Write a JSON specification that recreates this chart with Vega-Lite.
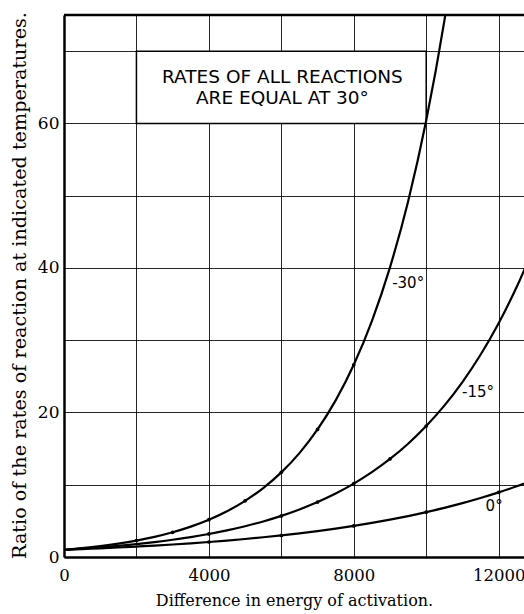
{
  "$schema": "https://vega.github.io/schema/vega-lite/v6.json",
  "width": 460,
  "height": 542,
  "autosize": {"type": "none"},
  "padding": {"left": 64, "top": 15, "right": 0, "bottom": 57},
  "background": "white",
  "config": {"view": {"stroke": null}, "font": "DejaVu Serif"},
  "datasets": {
    "curves": [
      {"E": 0, "ratio": 1, "T": "-30"}, {"E": 500, "ratio": 1.2276, "T": "-30"}, {"E": 1000, "ratio": 1.507, "T": "-30"}, {"E": 1500, "ratio": 1.85, "T": "-30"}, {"E": 2000, "ratio": 2.2711, "T": "-30"}, {"E": 2500, "ratio": 2.7879, "T": "-30"}, {"E": 3000, "ratio": 3.4223, "T": "-30"}, {"E": 3500, "ratio": 4.2013, "T": "-30"}, {"E": 4000, "ratio": 5.1576, "T": "-30"}, {"E": 4500, "ratio": 6.3313, "T": "-30"}, {"E": 5000, "ratio": 7.7725, "T": "-30"}, {"E": 5500, "ratio": 9.5416, "T": "-30"}, {"E": 6000, "ratio": 11.713, "T": "-30"}, {"E": 6500, "ratio": 14.379, "T": "-30"}, {"E": 7000, "ratio": 17.652, "T": "-30"}, {"E": 7500, "ratio": 21.669, "T": "-30"}, {"E": 8000, "ratio": 26.6, "T": "-30"}, {"E": 8500, "ratio": 32.654, "T": "-30"}, {"E": 9000, "ratio": 40.085, "T": "-30"}, {"E": 9500, "ratio": 49.207, "T": "-30"}, {"E": 10000, "ratio": 60.408, "T": "-30"}, {"E": 10500, "ratio": 74.157, "T": "-30"}, {"E": 11000, "ratio": 91.03, "T": "-30"},
      {"E": 0, "ratio": 1, "T": "-15"}, {"E": 500, "ratio": 1.1559, "T": "-15"}, {"E": 1000, "ratio": 1.3361, "T": "-15"}, {"E": 1500, "ratio": 1.5443, "T": "-15"}, {"E": 2000, "ratio": 1.785, "T": "-15"}, {"E": 2500, "ratio": 2.0633, "T": "-15"}, {"E": 3000, "ratio": 2.3849, "T": "-15"}, {"E": 3500, "ratio": 2.7565, "T": "-15"}, {"E": 4000, "ratio": 3.1862, "T": "-15"}, {"E": 4500, "ratio": 3.6828, "T": "-15"}, {"E": 5000, "ratio": 4.2568, "T": "-15"}, {"E": 5500, "ratio": 4.9203, "T": "-15"}, {"E": 6000, "ratio": 5.6873, "T": "-15"}, {"E": 6500, "ratio": 6.5737, "T": "-15"}, {"E": 7000, "ratio": 7.5983, "T": "-15"}, {"E": 7500, "ratio": 8.7827, "T": "-15"}, {"E": 8000, "ratio": 10.152, "T": "-15"}, {"E": 8500, "ratio": 11.734, "T": "-15"}, {"E": 9000, "ratio": 13.563, "T": "-15"}, {"E": 9500, "ratio": 15.677, "T": "-15"}, {"E": 10000, "ratio": 18.121, "T": "-15"}, {"E": 10500, "ratio": 20.945, "T": "-15"}, {"E": 11000, "ratio": 24.21, "T": "-15"}, {"E": 11500, "ratio": 27.983, "T": "-15"}, {"E": 12000, "ratio": 32.345, "T": "-15"}, {"E": 12500, "ratio": 37.386, "T": "-15"}, {"E": 13000, "ratio": 43.214, "T": "-15"},
      {"E": 0, "ratio": 1, "T": "0"}, {"E": 500, "ratio": 1.0956, "T": "0"}, {"E": 1000, "ratio": 1.2003, "T": "0"}, {"E": 1500, "ratio": 1.315, "T": "0"}, {"E": 2000, "ratio": 1.4406, "T": "0"}, {"E": 2500, "ratio": 1.5783, "T": "0"}, {"E": 3000, "ratio": 1.7291, "T": "0"}, {"E": 3500, "ratio": 1.8943, "T": "0"}, {"E": 4000, "ratio": 2.0753, "T": "0"}, {"E": 4500, "ratio": 2.2736, "T": "0"}, {"E": 5000, "ratio": 2.4909, "T": "0"}, {"E": 5500, "ratio": 2.7289, "T": "0"}, {"E": 6000, "ratio": 2.9896, "T": "0"}, {"E": 6500, "ratio": 3.2753, "T": "0"}, {"E": 7000, "ratio": 3.5884, "T": "0"}, {"E": 7500, "ratio": 3.9312, "T": "0"}, {"E": 8000, "ratio": 4.3068, "T": "0"}, {"E": 8500, "ratio": 4.7184, "T": "0"}, {"E": 9000, "ratio": 5.1693, "T": "0"}, {"E": 9500, "ratio": 5.6633, "T": "0"}, {"E": 10000, "ratio": 6.2044, "T": "0"}, {"E": 10500, "ratio": 6.7973, "T": "0"}, {"E": 11000, "ratio": 7.4468, "T": "0"}, {"E": 11500, "ratio": 8.1584, "T": "0"}, {"E": 12000, "ratio": 8.9378, "T": "0"}, {"E": 12500, "ratio": 9.7918, "T": "0"}, {"E": 13000, "ratio": 10.728, "T": "0"}
    ],
    "dots": [
      {"E": 2000, "ratio": 2.2711}, {"E": 3000, "ratio": 3.4223}, {"E": 4000, "ratio": 5.1576}, {"E": 5000, "ratio": 7.7725}, {"E": 6000, "ratio": 11.713}, {"E": 7000, "ratio": 17.652}, {"E": 8000, "ratio": 26.6},
      {"E": 4000, "ratio": 3.1862}, {"E": 6000, "ratio": 5.6873}, {"E": 7000, "ratio": 7.5983}, {"E": 8000, "ratio": 10.152}, {"E": 9000, "ratio": 13.563}, {"E": 10000, "ratio": 18.121},
      {"E": 4000, "ratio": 2.0753}, {"E": 6000, "ratio": 2.9896}, {"E": 8000, "ratio": 4.3068}, {"E": 10000, "ratio": 6.2044}, {"E": 12000, "ratio": 8.9378}
    ],
    "box": [{"x1": 2000, "x2": 10000, "y1": 60, "y2": 70}],
    "notes": [
      {"E": 6030, "ratio": 66.4, "t": "RATES OF ALL REACTIONS"},
      {"E": 6030, "ratio": 63.5, "t": "ARE EQUAL AT 30°"}
    ],
    "labels": [
      {"E": 9060, "ratio": 37.9, "t": "-30°"},
      {"E": 10990, "ratio": 22.8, "t": "-15°"},
      {"E": 11640, "ratio": 7.0, "t": "0°"}
    ]
  },
  "layer": [
    {
      "data": {"name": "box"},
      "mark": {"type": "rect", "fill": "white", "stroke": "black", "strokeWidth": 1.5},
      "encoding": {
        "x": {
          "field": "x1", "type": "quantitative",
          "scale": {"domain": [0, 12700], "nice": false, "zero": false},
          "axis": {
            "values": [0, 2000, 4000, 6000, 8000, 10000, 12000],
            "format": "d",
            "labelExpr": "datum.value % 4000 === 0 ? datum.label : ''",
            "grid": true, "gridColor": "black", "gridOpacity": 0.85, "gridWidth": 1,
            "ticks": false,
            "domain": true, "domainColor": "black", "domainWidth": 2.5,
            "labelFont": "DejaVu Serif", "labelFontSize": 16.5, "labelColor": "black", "labelPadding": 10,
            "labelFlush": false,
            "title": "Difference in energy of activation.",
            "titleFont": "DejaVu Serif", "titleFontSize": 16, "titleFontWeight": "normal", "titleColor": "black",
            "titlePadding": 9
          }
        },
        "x2": {"field": "x2"},
        "y": {
          "field": "y1", "type": "quantitative",
          "scale": {"domain": [0, 75], "nice": false, "zero": false},
          "axis": {
            "values": [0, 10, 20, 30, 40, 50, 60, 70],
            "labelExpr": "datum.value % 20 === 0 ? datum.label : ''",
            "grid": true, "gridColor": "black", "gridOpacity": 0.85, "gridWidth": 1,
            "ticks": false,
            "domain": true, "domainColor": "black", "domainWidth": 2.5,
            "labelFont": "DejaVu Serif", "labelFontSize": 17, "labelColor": "black", "labelPadding": 5,
            "labelFlush": false,
            "title": "Ratio of the rates of reaction at indicated temperatures.",
            "titleFont": "DejaVu Serif", "titleFontSize": 19.2, "titleFontWeight": "normal", "titleColor": "black",
            "titleX": -45, "titleY": 270, "titleAngle": -90, "titleAlign": "center", "titleBaseline": "middle"
          }
        },
        "y2": {"field": "y2"}
      }
    },
    {
      "data": {"name": "box"},
      "mark": {"type": "rule", "stroke": "black", "strokeWidth": 2.5},
      "encoding": {"y": {"datum": 75}}
    },
    {
      "data": {"name": "curves"},
      "mark": {"type": "line", "stroke": "black", "strokeWidth": 2.2, "clip": true, "interpolate": "monotone"},
      "encoding": {
        "x": {"field": "E", "type": "quantitative"},
        "y": {"field": "ratio", "type": "quantitative"},
        "detail": {"field": "T"}
      }
    },
    {
      "data": {"name": "dots"},
      "mark": {"type": "point", "filled": true, "fill": "black", "size": 14, "opacity": 1},
      "encoding": {
        "x": {"field": "E", "type": "quantitative"},
        "y": {"field": "ratio", "type": "quantitative"}
      }
    },
    {
      "data": {"name": "notes"},
      "mark": {"type": "text", "font": "DejaVu Sans", "fontSize": 18.5, "color": "black", "align": "center", "baseline": "middle"},
      "encoding": {
        "x": {"field": "E", "type": "quantitative"},
        "y": {"field": "ratio", "type": "quantitative"},
        "text": {"field": "t"}
      }
    },
    {
      "data": {"name": "labels"},
      "mark": {"type": "text", "font": "DejaVu Sans", "fontSize": 15, "color": "black", "align": "left", "baseline": "middle"},
      "encoding": {
        "x": {"field": "E", "type": "quantitative"},
        "y": {"field": "ratio", "type": "quantitative"},
        "text": {"field": "t"}
      }
    }
  ]
}
